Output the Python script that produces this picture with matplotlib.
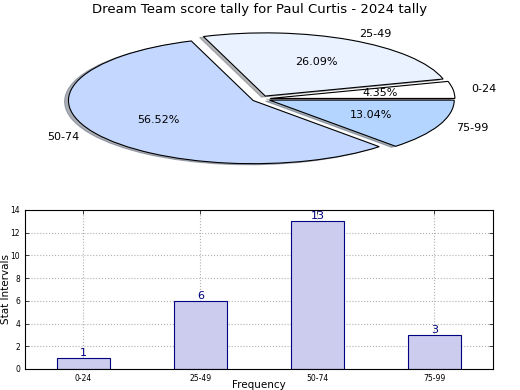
import matplotlib
matplotlib.use("Agg")
import matplotlib.pyplot as plt

# score intervals and how often Paul Curtis landed in each
intervals = ["0-24", "25-49", "50-74", "75-99"]
counts = [1, 6, 13, 3]
pie_colors = ["#ffffff", "#eaf2ff", "#c4d8ff", "#b3d5ff"]

fig = plt.figure(figsize=(5.2, 3.9), dpi=100)

# pie on top (squashed, not equal aspect)
ax1 = fig.add_axes([0.058, 0.544, 0.888, 0.405])
wedges, texts, autotexts = ax1.pie(
    counts, labels=intervals, colors=pie_colors, autopct="%.2f%%",
    explode=[0.05] * 4, shadow={"ox": -0.015, "oy": -0.012, "shade": 0.55},
    startangle=0,
    wedgeprops={"edgecolor": "black", "linewidth": 0.8},
    textprops={"fontsize": 8})
ax1.set_aspect("auto")
ax1.set_xlim(-1.25, 1.25)
ax1.set_ylim(-1.25, 1.25)
fig.text(0.5, 0.975, "Dream Team score tally for Paul Curtis - 2024 tally",
         ha="center", va="center", fontsize=9.5)

# bar chart below
ax2 = fig.add_axes([0.048, 0.054, 0.9, 0.4077])
x = range(len(intervals))
bars = ax2.bar(x, counts, width=0.45, color="#ccccee", edgecolor="navy",
               linewidth=0.8, zorder=2)
for b, c in zip(bars, counts):
    ax2.text(b.get_x() + b.get_width() / 2, c, str(c), ha="center",
             va="bottom", color="navy", fontsize=8, zorder=3)
ax2.set_xlim(-0.5, 3.5)
ax2.set_ylim(0, 14)
ax2.set_yticks(range(0, 15, 2))
ax2.set_xticks(list(x))
ax2.set_xticklabels(intervals)
ax2.tick_params(direction="in", labelsize=5.5, top=True, right=True,
                length=3, width=0.5)
ax2.grid(True, linestyle=":", color="#b0b0b0", linewidth=0.8, zorder=0)
ax2.set_axisbelow(True)
ax2.set_ylabel("Stat Intervals", fontsize=7.5)
ax2.set_xlabel("Frequency", fontsize=7.5)
ax2.yaxis.set_label_coords(-0.03, 0.5)
ax2.xaxis.set_label_coords(0.5, -0.072)

fig.savefig("out.png", dpi=100)
